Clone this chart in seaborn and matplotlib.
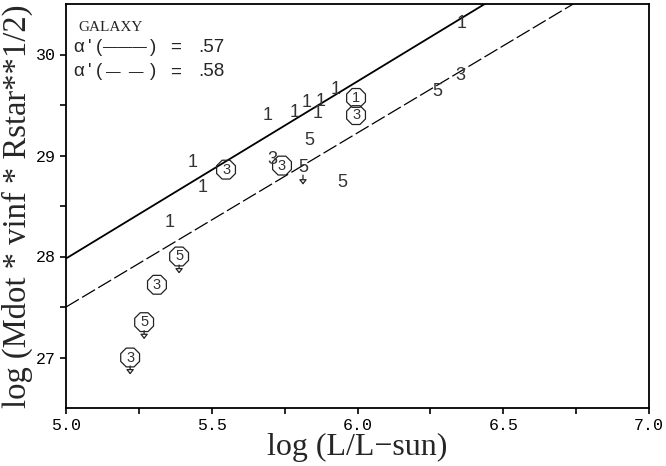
import matplotlib
matplotlib.use("Agg")
import matplotlib.pyplot as plt
import matplotlib.transforms as mtransforms
import numpy as np
import pandas as pd
import seaborn as sns

# Galactic sample: log L, log of modified wind momentum, spectral class digit,
# whether the digit is enclosed, and whether the value is an upper limit
log_l = [6.358, 5.693, 5.786, 5.827, 5.875, 5.926, 5.864, 5.995, 5.995, 5.834,
         5.707, 5.741, 5.813, 5.947, 6.273, 6.352, 5.436, 5.549, 5.467, 5.357,
         5.388, 5.312, 5.268, 5.220]
log_dmom = [30.31, 29.40, 29.43, 29.52, 29.53, 29.65, 29.42, 29.57, 29.40, 29.15,
            28.96, 28.90, 28.88, 28.73, 29.63, 29.79, 28.93, 28.86, 28.68, 28.34,
            28.00, 27.72, 27.35, 27.00]
label = ["1", "1", "1", "1", "1", "1", "1", "1", "3", "5",
         "3", "3", "5", "5", "5", "3", "1", "3", "1", "1",
         "5", "3", "5", "3"]
boxed = [False, False, False, False, False, False, False, True, True, False,
         False, True, False, False, False, False, False, True, False, False,
         True, True, True, True]
upper_limit = [False, False, False, False, False, False, False, False, False, False,
               False, False, True, False, False, False, False, False, False, False,
               True, False, True, True]

# Regression lines: value at log L = 5 and alpha' (slope = 1/alpha')
alpha_solid, zero_solid = 0.57, 27.98
alpha_dashed, zero_dashed = 0.58, 27.50

df = pd.DataFrame({"logL": log_l, "dmom": log_dmom, "lab": label,
                   "boxed": boxed, "upper": upper_limit})

sns.set_theme(style="white")
plt.rcParams["font.family"] = ["Liberation Sans", "DejaVu Sans"]

fig = plt.figure(figsize=(6.66, 4.66), dpi=100)
ax = fig.add_axes([66 / 666, 1 - 408 / 466, 583 / 666, 404 / 466])

xfit = np.array([5.0, 7.0])
fits = pd.DataFrame({
    "x": np.concatenate([xfit, xfit]),
    "y": np.concatenate([zero_solid + (xfit - 5.0) / alpha_solid,
                         zero_dashed + (xfit - 5.0) / alpha_dashed]),
    "fit": ["solid"] * 2 + ["dashed"] * 2,
})
sns.lineplot(data=fits[fits.fit == "solid"], x="x", y="y", ax=ax,
             color="black", lw=1.3, legend=False)
sns.lineplot(data=fits[fits.fit == "dashed"], x="x", y="y", ax=ax,
             color="black", lw=0.9, legend=False, dashes=False)
ax.lines[-1].set_dashes((12, 3))

# octagon frames around enclosed digits
sns.scatterplot(data=df[df.boxed], x="logL", y="dmom", ax=ax, marker="8",
                s=215, facecolor="none", edgecolor="#222222", linewidth=0.9,
                legend=False, zorder=3)

for r in df.itertuples():
    ax.text(r.logL, r.dmom, r.lab, ha="center", va="center",
            fontsize=10.5 if r.boxed else 13, color="#333333",
            fontweight="light", zorder=4)

# downward arrows on upper limits
for r in df[df.upper].itertuples():
    top = mtransforms.offset_copy(ax.transData, fig=fig, x=0,
                                  y=-8.5 if r.boxed else -7.5, units="dots")
    tip = mtransforms.offset_copy(ax.transData, fig=fig, x=0,
                                  y=-17 if r.boxed else -17, units="dots")
    ax.annotate("", xy=(r.logL, r.dmom), xycoords=tip,
                xytext=(r.logL, r.dmom), textcoords=top,
                arrowprops=dict(arrowstyle="-|>,head_length=0.35,head_width=0.28",
                                mutation_scale=8, fc="white", ec="#222222",
                                lw=0.9, shrinkA=0, shrinkB=0), zorder=4)

ax.set_xlim(5.0, 7.0)
ax.set_ylim(26.5, 30.5)
ax.set_xticks([5.0, 5.5, 6.0, 6.5, 7.0])
ax.set_xticks(np.arange(5.0, 7.01, 0.25), minor=True)
ax.set_yticks([27, 28, 29, 30])
ax.set_yticks([27.5, 28.5, 29.5], minor=True)
ax.set_xticklabels(["5.0", "5.5", "6.0", "6.5", "7.0"])
ax.set_yticklabels(["27", "28", "29", "30"])
for t in ax.get_xticklabels() + ax.get_yticklabels():
    t.set_fontfamily("Liberation Mono")
    t.set_fontsize(12)
ax.tick_params(which="both", direction="out", length=4, width=1.2, color="black",
               bottom=True, left=True, top=False, right=False, pad=3,
               labelcolor="black")
for s in ax.spines.values():
    s.set_color("black")
    s.set_linewidth(1.3)

ax.set_xlabel("log (L/L\u2212sun)", fontfamily="Liberation Serif", fontsize=23,
              labelpad=0)
ax.set_ylabel("log (Mdot * vinf * Rstar**1/2)", fontfamily="Liberation Serif",
              fontsize=23.5, labelpad=2)

ax.text(0.021, 0.943, "GALAXY", transform=ax.transAxes, fontfamily="Liberation Serif",
        fontsize=11, va="center", ha="left")

# fit legend: symbol, bracketed line key, equals sign and slope value in columns
def px_x(p):
    return (p - 66) / 583

for y_ax, key, alpha in [(0.893, "\u2014\u2014\u2014", alpha_solid),
                         (0.832, "\u2014  \u2014", alpha_dashed)]:
    ax.text(px_x(73), y_ax, "\u03b1", transform=ax.transAxes,
            fontsize=13.5, va="center", ha="left")
    ax.text(px_x(88), y_ax, "'", transform=ax.transAxes,
            fontsize=13.5, va="center", ha="left")
    ax.text(px_x(96), y_ax, "(", transform=ax.transAxes,
            fontsize=13.5, va="center", ha="left")
    ax.text(px_x(125), y_ax, key, transform=ax.transAxes,
            fontsize=10.5, va="center", ha="center")
    ax.text(px_x(150), y_ax, ")", transform=ax.transAxes,
            fontsize=13.5, va="center", ha="left")
    ax.text(px_x(170), y_ax, "=", transform=ax.transAxes,
            fontsize=13.5, va="center", ha="left")
    ax.text(px_x(198), y_ax, f"{alpha:.2f}".lstrip("0"), transform=ax.transAxes,
            fontsize=13.5, va="center", ha="left")

fig.savefig("out.png", dpi=100)
